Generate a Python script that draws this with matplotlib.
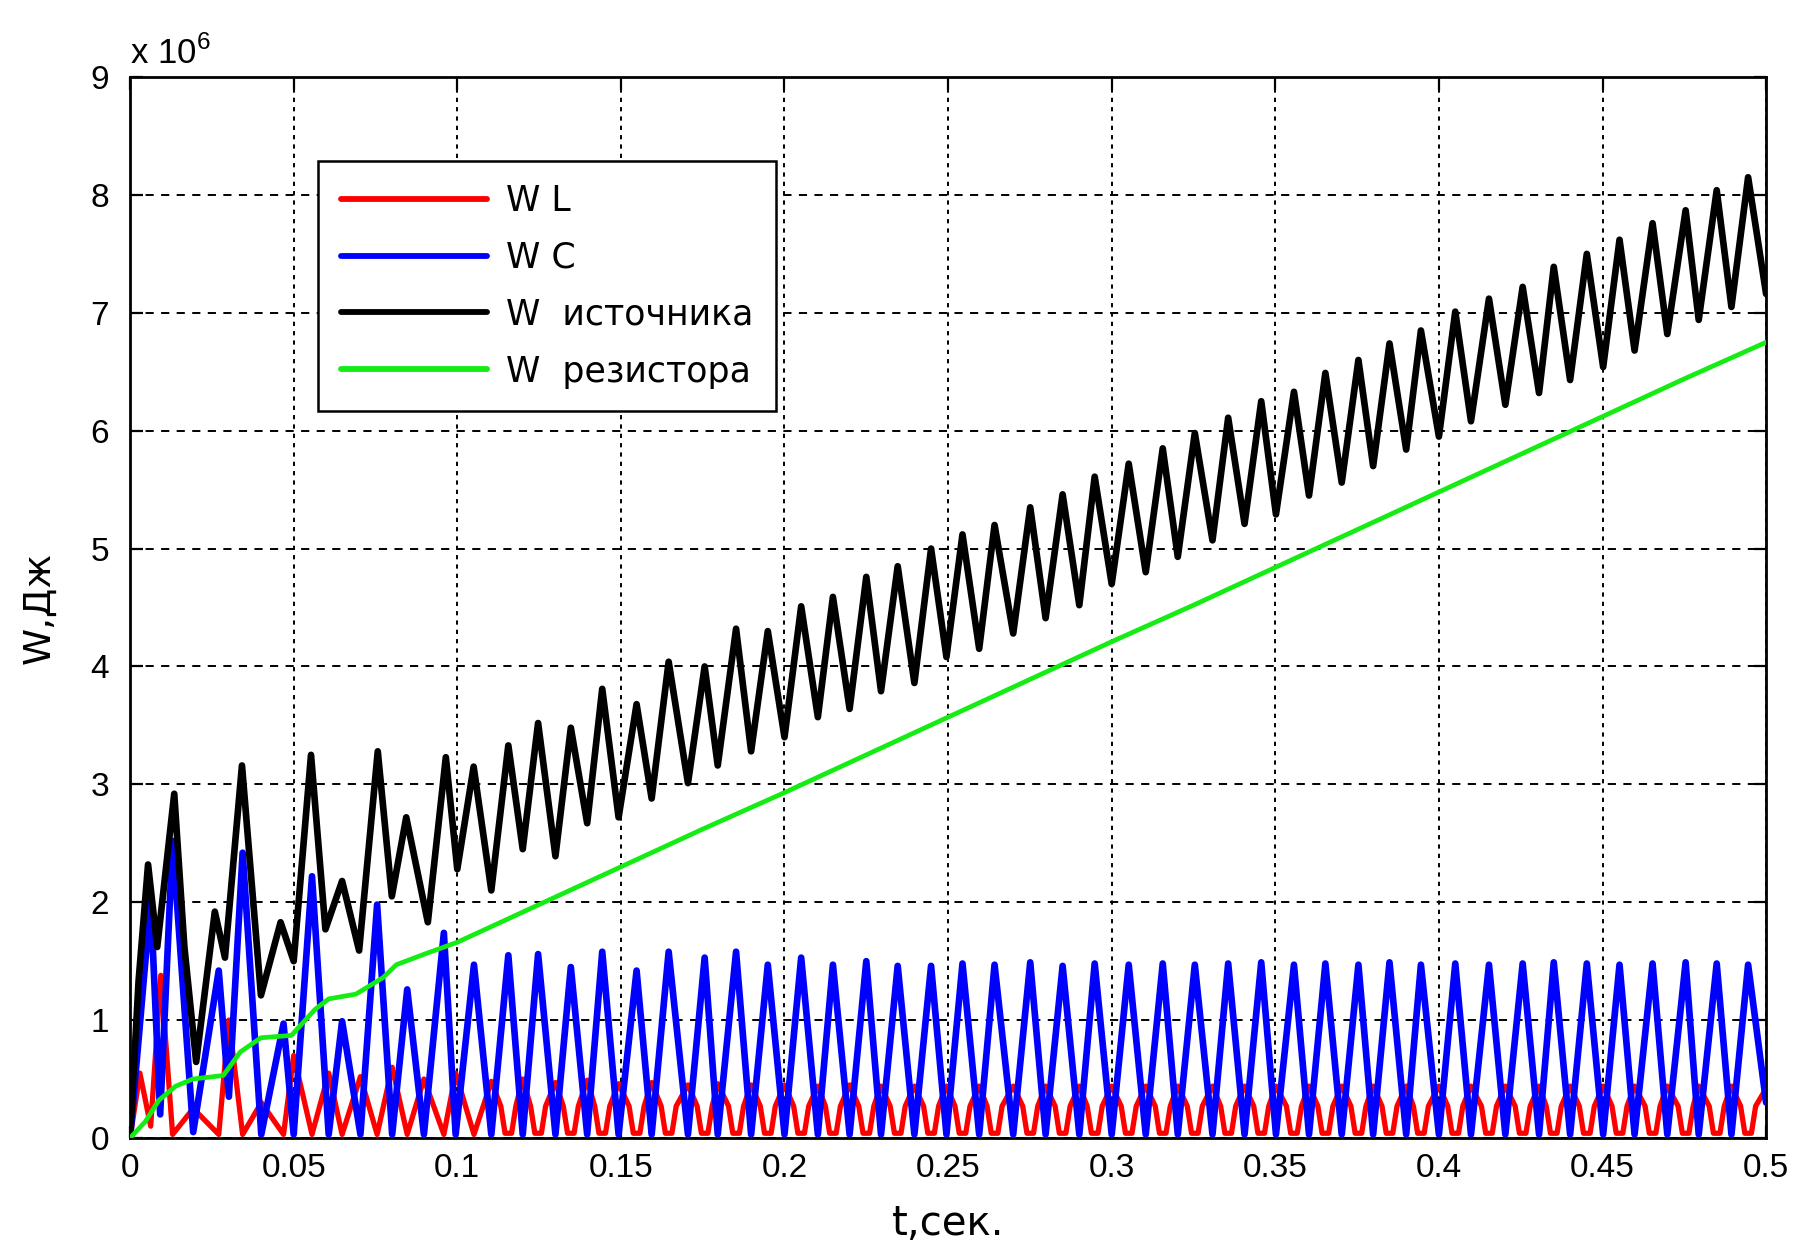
import numpy as np
import matplotlib
matplotlib.use('Agg')
import matplotlib.pyplot as plt

plt.rcParams['font.family'] = ['Liberation Sans', 'DejaVu Sans']
plt.rcParams['mathtext.fontset'] = 'custom'
plt.rcParams['mathtext.rm'] = 'Liberation Sans'

# --- start-up transient (t in s, W in 1e6 J) ---
black_t0 = [0, 0.0026, 0.0055, 0.0083, 0.0135, 0.0166, 0.0202, 0.0259, 0.029, 0.0342,
            0.040, 0.046, 0.050, 0.0553, 0.0597, 0.0648, 0.070, 0.0757, 0.080, 0.0844,
            0.091, 0.0965, 0.100, 0.105]
black_w0 = [0, 1.33, 2.32, 1.62, 2.92, 1.62, 0.645, 1.92, 1.53, 3.16,
            1.21, 1.83, 1.50, 3.25, 1.77, 2.18, 1.59, 3.28, 2.05, 2.72,
            1.83, 3.23, 2.28, 3.15]

blue_t0 = [0, 0.0063, 0.0092, 0.0130, 0.0193, 0.0271, 0.0302, 0.0344, 0.0401, 0.0469,
           0.0500, 0.0556, 0.0607, 0.0648, 0.0704, 0.0755, 0.0801, 0.0847, 0.0898,
           0.0959, 0.0995, 0.1051]
blue_w0 = [0, 2.02, 0.20, 2.52, 0.05, 1.42, 0.35, 2.42, 0.03, 0.97,
           0.03, 2.22, 0.03, 0.99, 0.03, 1.98, 0.03, 1.26, 0.03,
           1.74, 0.03, 1.47]

red_t0 = [0, 0.0030, 0.0063, 0.0094, 0.0130, 0.0193, 0.0271, 0.0302, 0.0344, 0.0401,
          0.0469, 0.0500, 0.0556, 0.0607, 0.0648, 0.0704, 0.0755, 0.0801, 0.0847,
          0.0898, 0.0959, 0.0995, 0.1051]
red_w0 = [0, 0.55, 0.10, 1.38, 0.03, 0.25, 0.03, 1.00, 0.03, 0.30,
          0.03, 0.70, 0.03, 0.55, 0.03, 0.52, 0.03, 0.60, 0.03,
          0.50, 0.03, 0.55, 0.03]

# --- steady oscillation: one peak per 0.01 s ---
peak_t = [0.1156, 0.1247, 0.1347, 0.1443, 0.1548, 0.1646, 0.1756, 0.1852, 0.1949, 0.2051,
          0.2148, 0.2250, 0.2346, 0.2448, 0.2544, 0.2642, 0.2751, 0.2850, 0.2948, 0.3052,
          0.3156, 0.3254, 0.3356, 0.3457, 0.3557, 0.3653, 0.3754, 0.3849, 0.3945, 0.4050,
          0.4153, 0.4256, 0.4351, 0.4452, 0.4552, 0.4653, 0.4754, 0.4849, 0.4945]
trough_t = [0.1104, 0.1200, 0.1300, 0.1397, 0.1493, 0.1594, 0.1705, 0.1796, 0.1898, 0.2000,
            0.2102, 0.2199, 0.2295, 0.2397, 0.2495, 0.2595, 0.2699, 0.2798, 0.2901, 0.3000,
            0.3104, 0.3202, 0.3308, 0.3406, 0.3502, 0.3603, 0.3703, 0.3799, 0.3900, 0.4000,
            0.4098, 0.4203, 0.4306, 0.4401, 0.4502, 0.4598, 0.4698, 0.4794, 0.4894, 0.5000]

black_peak = [3.33, 3.52, 3.48, 3.81, 3.68, 4.04, 4.00, 4.32, 4.30, 4.51,
              4.59, 4.76, 4.85, 5.00, 5.12, 5.20, 5.35, 5.46, 5.61, 5.72,
              5.85, 5.98, 6.11, 6.25, 6.33, 6.49, 6.60, 6.74, 6.85, 7.01,
              7.12, 7.22, 7.39, 7.50, 7.62, 7.76, 7.87, 8.04, 8.15]
black_trough = [2.10, 2.45, 2.39, 2.67, 2.72, 2.88, 3.01, 3.16, 3.28, 3.40,
                3.57, 3.64, 3.79, 3.86, 4.08, 4.15, 4.28, 4.41, 4.52, 4.70,
                4.80, 4.93, 5.07, 5.21, 5.29, 5.45, 5.56, 5.70, 5.84, 5.95,
                6.08, 6.22, 6.32, 6.43, 6.54, 6.68, 6.82, 6.94, 7.05, 7.16]

blue_peak = [1.55, 1.56, 1.45, 1.58, 1.42, 1.58, 1.53, 1.58, 1.47, 1.53,
             1.47, 1.50, 1.46, 1.46, 1.48, 1.47, 1.49, 1.46, 1.48, 1.47,
             1.48, 1.47, 1.48, 1.49, 1.47, 1.48, 1.47, 1.49, 1.47, 1.48,
             1.47, 1.48, 1.49, 1.48, 1.47, 1.48, 1.49, 1.48, 1.47]
blue_trough = [0.03] * 39 + [0.30]

red_peak = [0.48, 0.50, 0.47, 0.49, 0.46, 0.47, 0.45, 0.46, 0.45, 0.45,
            0.44, 0.45, 0.44, 0.44, 0.44, 0.44, 0.44, 0.44, 0.44, 0.44,
            0.44, 0.44, 0.44, 0.44, 0.44, 0.44, 0.44, 0.44, 0.44, 0.44,
            0.44, 0.44, 0.44, 0.44, 0.44, 0.44, 0.44, 0.44, 0.44, 0.42]
red_shoulder = 0.27
red_floor = 0.04
red_shoulder_dt = 0.0023
red_floor_dt = 0.0010

# --- resistor energy ---
green_t = [0, 0.0047, 0.0088, 0.014, 0.0192, 0.0285, 0.0337, 0.040, 0.0493, 0.0565,
           0.0607, 0.069, 0.0773, 0.0814, 0.090, 0.100, 0.125, 0.150, 0.175, 0.200,
           0.225, 0.250, 0.275, 0.300, 0.325, 0.350, 0.375, 0.400, 0.425, 0.450,
           0.475, 0.500]
green_w = [0, 0.14, 0.32, 0.44, 0.50, 0.53, 0.73, 0.85, 0.87, 1.09,
           1.18, 1.22, 1.36, 1.47, 1.56, 1.66, 1.98, 2.30, 2.62, 2.93,
           3.25, 3.57, 3.89, 4.21, 4.52, 4.84, 5.16, 5.48, 5.80, 6.12,
           6.44, 6.75]


def alternate(t_lo, w_lo, t_hi, w_hi):
    """Join trough/peak lists into one polyline (troughs have one extra entry)."""
    t, w = [], []
    for k in range(len(t_hi)):
        t += [t_lo[k], t_hi[k]]
        w += [w_lo[k], w_hi[k]]
    t.append(t_lo[-1])
    w.append(w_lo[-1])
    return t, w


def red_cycles():
    t, w = [], []
    for k in range(len(peak_t)):
        tp = peak_t[k]
        t += [trough_t[k], tp - red_shoulder_dt, tp - red_floor_dt,
              tp + red_floor_dt, tp + red_shoulder_dt]
        w += [red_peak[k], red_shoulder, red_floor, red_floor, red_shoulder]
    t.append(trough_t[-1])
    w.append(red_peak[-1])
    return t, w


bt, bw = alternate(trough_t, black_trough, peak_t, black_peak)
ct, cw = alternate(trough_t, blue_trough, peak_t, blue_peak)
rt, rw = red_cycles()

t_black = np.array(black_t0 + bt)
w_black = np.array(black_w0 + bw) * 1e6
t_blue = np.array(blue_t0 + ct)
w_blue = np.array(blue_w0 + cw) * 1e6
t_red = np.array(red_t0 + rt)
w_red = np.array(red_w0 + rw) * 1e6
t_green = np.array(green_t)
w_green = np.array(green_w) * 1e6

fig = plt.figure(figsize=(18.04, 12.49), dpi=100)
ax = fig.add_axes([0.0721, 0.0889, 0.9069, 0.8494])

style = dict(solid_joinstyle='round', solid_capstyle='round')
ax.plot(t_red, w_red, color='#ff0000', lw=3.8, label='W L', zorder=3, **style)
ax.plot(t_blue, w_blue, color='#0000ff', lw=4.8, label='W C', zorder=4, **style)
ax.plot(t_black, w_black, color='black', lw=4.8, label='W  источника', zorder=5, **style)
ax.plot(t_green, w_green, color='#14ec14', lw=3.4, label='W  резистора', zorder=6, **style)

ax.set_xlim(0, 0.5)
ax.set_ylim(0, 9e6)
xt = np.arange(0, 0.5001, 0.05)
ax.set_xticks(xt)
ax.set_xticklabels(['0', '0.05', '0.1', '0.15', '0.2', '0.25', '0.3', '0.35',
                    '0.4', '0.45', '0.5'])
ax.set_yticks(np.arange(0, 9.01, 1) * 1e6)
ax.set_yticklabels([str(v) for v in range(10)])

ax.tick_params(direction='in', length=9, width=1.6, labelsize=24,
               top=True, right=True)
ax.tick_params(axis='x', pad=11)
ax.tick_params(axis='y', pad=15)
for s in ax.spines.values():
    s.set_linewidth(2.0)

ax.xaxis.grid(True, color='black', lw=1.4, linestyle=(0, (2.2, 2.6)))
ax.yaxis.grid(True, color='black', lw=1.4, linestyle=(0, (4.2, 3.8)))
ax.set_axisbelow(True)

ax.text(0.0, 1.006, r'x 10$^{\mathdefault{6}}$', transform=ax.transAxes,
        fontsize=25, ha='left', va='bottom')
ax.set_xlabel('t,сек.', fontsize=29, labelpad=14, family='DejaVu Sans')
ax.set_ylabel('W,Дж', fontsize=27, labelpad=24, family='DejaVu Sans')

leg = ax.legend(loc='upper left', bbox_to_anchor=(0.115, 0.921),
                prop={'family': 'DejaVu Sans', 'size': 25},
                frameon=True, fancybox=False, edgecolor='black', framealpha=1,
                handlelength=4.2, handletextpad=0.55, labelspacing=0.66,
                borderpad=0.66, borderaxespad=0)
leg.get_frame().set_linewidth(1.8)
for line in leg.get_lines():
    line.set_linewidth(4.2)

fig.savefig('out.png', dpi=100)
